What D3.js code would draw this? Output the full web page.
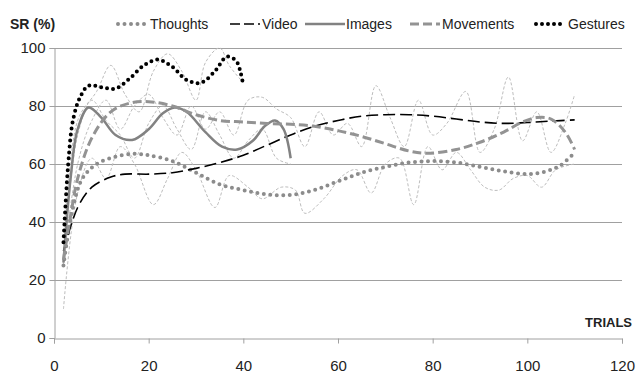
<!DOCTYPE html>
<html>
<head>
<meta charset="utf-8">
<script src="https://cdn.jsdelivr.net/npm/d3@7"></script>
<style>
  body { margin: 0; background: #fff; }
  text { font-family: "Liberation Sans", Arial, sans-serif; fill: #222; }
</style>
</head>
<body>
<div id="chart"></div>
<script>
// tick labels
var xTicks = [0, 20, 40, 60, 80, 100, 120];
var yTicks = [0, 20, 40, 60, 80, 100];

// smoothed series (trial, SR %)
var thoughts = [[2,25],[4,45],[6,55],[9,60],[13,62.5],[17,63.5],[20,63],[25,61],[30,57],[35,53],[40,51],[45,49.5],[50,49.3],[55,51],[60,54],[65,57],[70,59],[75,60.5],[80,61],[85,60.5],[90,59],[95,57.5],[100,56.5],[104,57.5],[107,59.5],[110,64]];
var video = [[2,30],[5,45],[8,52],[12,55.5],[15,56.5],[20,56.5],[25,57],[30,58.5],[35,60.5],[40,63],[45,66.5],[50,70],[55,73],[60,75],[65,76.5],[70,77],[75,77],[80,76.5],[85,75.5],[90,74.5],[95,74],[100,74.3],[105,74.8],[110,75.2]];
var images = [[2,26],[3.5,55],[5,72],[7.3,79.5],[10,76],[13,70],[16.5,68.3],[20,72],[23,77.5],[25.5,79.5],[28,78],[32,71],[35.5,66],[38.7,65],[42,68],[44.5,73],[46.7,75],[48.5,72],[50,62]];
var movements = [[2,27],[3.5,42],[5,55],[8,69],[12,78],[16,81],[20,81.5],[25,80],[30,77],[35,75],[40,74.5],[45,74],[50,73.7],[55,73],[60,71.5],[65,69.5],[70,67],[75,64.5],[79,63.7],[85,65],[90,67.5],[95,71],[99,74.5],[102,76],[105,75.5],[108,71],[110,65]];
var gestures = [[2,33],[3,60],[4,75],[5.5,83],[7.3,87],[10,86.5],[13,86],[16,89.5],[19,94],[22,96],[25,93.5],[28,89],[31,88],[34,92],[36.5,97],[38.5,95.5],[39.5,91],[40,87]];

// raw trial data (thin dashed background lines)
var rawThoughts = [[2,10],[5,50],[8,62],[11,55],[14,66],[17,60],[21,46],[24,55],[27,64],[30,58],[34,45],[37,56],[41,52],[44,48],[48,52],[51,51],[53,43],[57,48],[61,56],[64,58],[67,50],[70,60],[73,62],[76,46],[79,66],[82,58],[85,64],[88,58],[91,52],[94,51],[97,55],[100,56],[103,52],[106,58],[110,60]];
var rawMovements = [[2,26],[5,60],[8,75],[11,82],[14,72],[17,80],[20,84],[23,76],[26,70],[29,80],[32,72],[35,78],[38,70],[41,82],[44,83],[47,79],[50,76],[53,66],[56,78],[59,70],[62,74],[65,66],[68,87],[71,76],[74,66],[77,82],[80,70],[83,74],[87,85],[90,64],[93,72],[96,90],[99,68],[102,78],[105,64],[108,74],[110,84]];
var rawImages = [[2,26],[5,70],[8,82],[11,75],[14,70],[17,62],[20,74],[23,80],[26,72],[29,65],[32,78],[35,70],[38,62],[41,68],[44,72],[47,62],[50,60]];
var rawGestures = [[2,25],[5,75],[9,85],[12,94],[15,84],[18,78],[21,92],[24,98],[27,92],[30,82],[32,95],[35,100],[37,94],[40,88]];

var width = 636, height = 373;
var margin = {top: 48, right: 14, bottom: 35, left: 54};

var svg = d3.select("#chart").append("svg")
    .attr("width", width)
    .attr("height", height);

var x = d3.scaleLinear().domain([0, 120]).range([margin.left, width - margin.right]);
var y = d3.scaleLinear().domain([0, 100]).range([height - margin.bottom, margin.top]);

// gridlines
svg.append("g").selectAll("line")
    .data(yTicks.filter(function(d) { return d > 0; }))
    .enter().append("line")
    .attr("x1", x(0)).attr("x2", x(120))
    .attr("y1", function(d) { return Math.round(y(d)) + 0.5; })
    .attr("y2", function(d) { return Math.round(y(d)) + 0.5; })
    .attr("stroke", "#a0a0a0").attr("stroke-width", 1);

// x axis
var xAxis = svg.append("g")
    .attr("transform", "translate(0," + (Math.round(y(0)) + 0.5) + ")")
    .call(d3.axisBottom(x).tickValues(xTicks).tickSize(5).tickPadding(17));
xAxis.select(".domain").attr("stroke", "#a0a0a0");
xAxis.selectAll(".tick line").attr("stroke", "#a0a0a0");
xAxis.selectAll("text").style("font-size", "15px").attr("fill", "#222");

// y axis
var yAxis = svg.append("g")
    .attr("transform", "translate(" + (Math.round(x(0)) + 0.5) + ",0)")
    .call(d3.axisLeft(y).tickValues(yTicks).tickSize(5).tickPadding(4));
yAxis.select(".domain").attr("stroke", "#a0a0a0");
yAxis.selectAll(".tick line").attr("stroke", "#a0a0a0");
yAxis.selectAll("text").style("font-size", "15px").attr("fill", "#222");

var line = d3.line()
    .x(function(d) { return x(d[0]); })
    .y(function(d) { return y(d[1]); })
    .curve(d3.curveCatmullRom.alpha(0.5));

// raw data first, underneath
[rawThoughts, rawMovements, rawImages, rawGestures].forEach(function(s) {
    svg.append("path")
        .datum(s)
        .attr("d", line)
        .attr("fill", "none")
        .attr("stroke", "#bdbdbd")
        .attr("stroke-width", 1)
        .attr("stroke-dasharray", "3,2");
});

var series = [
    {name: "Thoughts", data: thoughts, color: "#8c8c8c", width: 4, dash: "0,6.5", cap: "round"},
    {name: "Video", data: video, color: "#000", width: 1.6, dash: "12,5", cap: "butt"},
    {name: "Images", data: images, color: "#828282", width: 2.5, dash: null, cap: "butt"},
    {name: "Movements", data: movements, color: "#939393", width: 3, dash: "9,4", cap: "butt"},
    {name: "Gestures", data: gestures, color: "#000", width: 4, dash: "0,6", cap: "round"}
];

series.forEach(function(s) {
    svg.append("path")
        .datum(s.data)
        .attr("d", line)
        .attr("fill", "none")
        .attr("stroke", s.color)
        .attr("stroke-width", s.width)
        .attr("stroke-dasharray", s.dash)
        .attr("stroke-linecap", s.cap);
});

// legend
var legendX = [118, 230, 305, 410, 536];
var leg = svg.append("g").selectAll("g")
    .data(series)
    .enter().append("g")
    .attr("transform", function(d, i) { return "translate(" + legendX[i] + ",24)"; });
leg.append("line")
    .attr("x1", 0).attr("x2", function(d) { return d.name == "Images" ? 40 : 30; })
    .attr("y1", 0).attr("y2", 0)
    .attr("stroke", function(d) { return d.color; })
    .attr("stroke-width", function(d) { return d.name == "Video" ? 1.6 : d.width; })
    .attr("stroke-dasharray", function(d) { return d.name == "Video" ? "10,4" : d.dash; })
    .attr("stroke-linecap", function(d) { return d.cap; });
leg.append("text")
    .attr("x", function(d) { return d.name == "Images" ? 41 : 32; })
    .attr("y", 5)
    .style("font-size", "14px")
    .text(function(d) { return d.name; });

// axis titles
svg.append("text")
    .attr("x", 10).attr("y", 29)
    .style("font-size", "14px").style("font-weight", "bold")
    .text("SR (%)");
svg.append("text")
    .attr("x", 632).attr("y", 327)
    .attr("text-anchor", "end")
    .style("font-size", "13px").style("font-weight", "bold")
    .text("TRIALS");
</script>
</body>
</html>
